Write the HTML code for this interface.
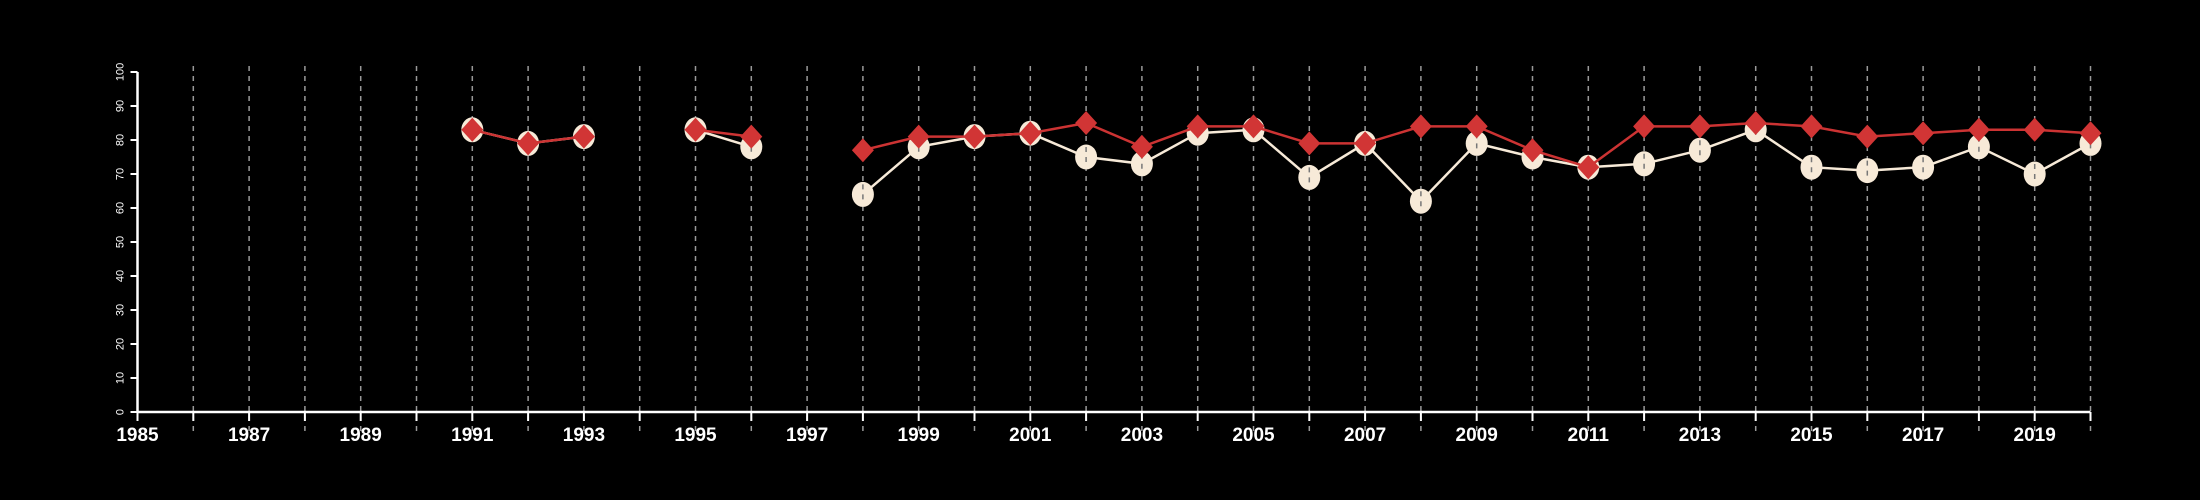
<!DOCTYPE html>
<html><head><meta charset="utf-8"><style>
html,body{margin:0;padding:0;background:#000;width:2200px;height:500px;overflow:hidden}
text{font-family:"Liberation Sans",sans-serif}
</style></head><body>
<svg id="chart" width="2200" height="500" xmlns="http://www.w3.org/2000/svg">
<rect width="2200" height="500" fill="#000"/>
<g id="grid"></g>
<g id="axes"></g>
<g id="series"></g>
</svg>
<script>
const years = [1991,1992,1993,1994,1995,1996,1997,1998,1999,2000,2001,2002,2003,2004,2005,2006,2007,2008,2009,2010,2011,2012,2013,2014,2015,2016,2017,2018,2019,2020];
const seriesWhite = [83,79,81,null,83,78,null,64,78,81,82,75,73,82,83,69,79,62,79,75,72,73,77,83,72,71,72,78,70,79];
const seriesRed = [83,79,81,null,83,81,null,77,81,81,82,85,78,84,84,79,79,84,84,77,72,84,84,85,84,81,82,83,83,82];
const yTicks = [0,10,20,30,40,50,60,70,80,90,100];
const xLabels = [1985,1987,1989,1991,1993,1995,1997,1999,2001,2003,2005,2007,2009,2011,2013,2015,2017,2019];
const xMin = 1985, xMax = 2020;

const NS = "http://www.w3.org/2000/svg";
const X0 = 137.5, X1 = 2090.5, Y0 = 412, Y1 = 72;
const xs = v => X0 + (v - xMin) / (xMax - xMin) * (X1 - X0);
const ys = v => Y0 - v / 100 * (Y0 - Y1);
function mk(tag, attrs, parent) {
  const e = document.createElementNS(NS, tag);
  for (const k in attrs) e.setAttribute(k, attrs[k]);
  parent.appendChild(e);
  return e;
}
const grid = document.getElementById('grid');
const axes = document.getElementById('axes');
const ser = document.getElementById('series');

// axes
const xa = mk('line', {x1: X0, y1: Y0, x2: X1, y2: Y0, stroke: '#fff', 'stroke-width': 2.5}, axes);


const ya = mk('line', {x1: X0, y1: Y0, x2: X0, y2: Y1, stroke: '#fff', 'stroke-width': 2.5}, axes);


yTicks.forEach(t => {
  const tk = mk('line', {x1: X0 - 7, y1: ys(t), x2: X0, y2: ys(t), stroke: '#fff', 'stroke-width': 2}, axes);
  
  
  const tx = mk('text', {x: 0, y: 0, fill: '#fff', 'font-size': 11, 'text-anchor': 'middle', transform: `translate(${X0 - 18},${ys(t)}) rotate(-90) translate(0,4)`}, axes);
  tx.textContent = t;
  
  
});
for (let y = xMin; y <= xMax; y++) {
  const tk = mk('line', {x1: xs(y), y1: Y0, x2: xs(y), y2: Y0 + 9, stroke: '#fff', 'stroke-width': 2}, axes);
  
  
  if (y > xMin) {
    const g = mk('line', {x1: xs(y), y1: Y1 - 6, x2: xs(y), y2: Y0 + 20, stroke: '#999', 'stroke-width': 1.5, 'stroke-dasharray': '5,5'}, grid);
    
    
  }
}
xLabels.forEach(y => {
  const tx = mk('text', {x: xs(y), y: 441, fill: '#fff', 'font-size': 19, 'font-weight': 'bold', 'text-anchor': 'middle'}, axes);
  tx.textContent = y;
  
  
});

function segs(vals) {
  const out = []; let cur = [];
  vals.forEach((v, i) => {
    if (v === null) { if (cur.length) out.push(cur); cur = []; }
    else cur.push([xs(years[i]), ys(v)]);
  });
  if (cur.length) out.push(cur);
  return out;
}
// white series
segs(seriesWhite).forEach(s => {
  const p = mk('polyline', {points: s.map(q => q.join(',')).join(' '), fill: 'none', stroke: '#f7ead8', 'stroke-width': 2.5}, ser);
  
  
});
seriesWhite.forEach((v, i) => {
  if (v === null) return;
  const c = mk('ellipse', {cx: xs(years[i]), cy: ys(v), rx: 11, ry: 12.5, fill: '#f7ead8'}, ser);
  
  
});
// grid dashes over circles
seriesWhite.forEach((v, i) => {
  if (v === null) return;
  const x = xs(years[i]);
  const d = mk('line', {x1: x, y1: ys(v) - 10, x2: x, y2: ys(v) + 10, stroke: '#777', 'stroke-width': 1.5, 'stroke-dasharray': '5,5'}, ser);
  
  
});
// red series
segs(seriesRed).forEach(s => {
  const p = mk('polyline', {points: s.map(q => q.join(',')).join(' '), fill: 'none', stroke: '#cc3333', 'stroke-width': 2.5}, ser);
  
  
});
seriesRed.forEach((v, i) => {
  if (v === null) return;
  const x = xs(years[i]), y = ys(v);
  const d = mk('polygon', {points: `${x},${y - 12} ${x + 11},${y} ${x},${y + 12} ${x - 11},${y}`, fill: '#d13535'}, ser);
  
  
});
</script>
</body></html>
